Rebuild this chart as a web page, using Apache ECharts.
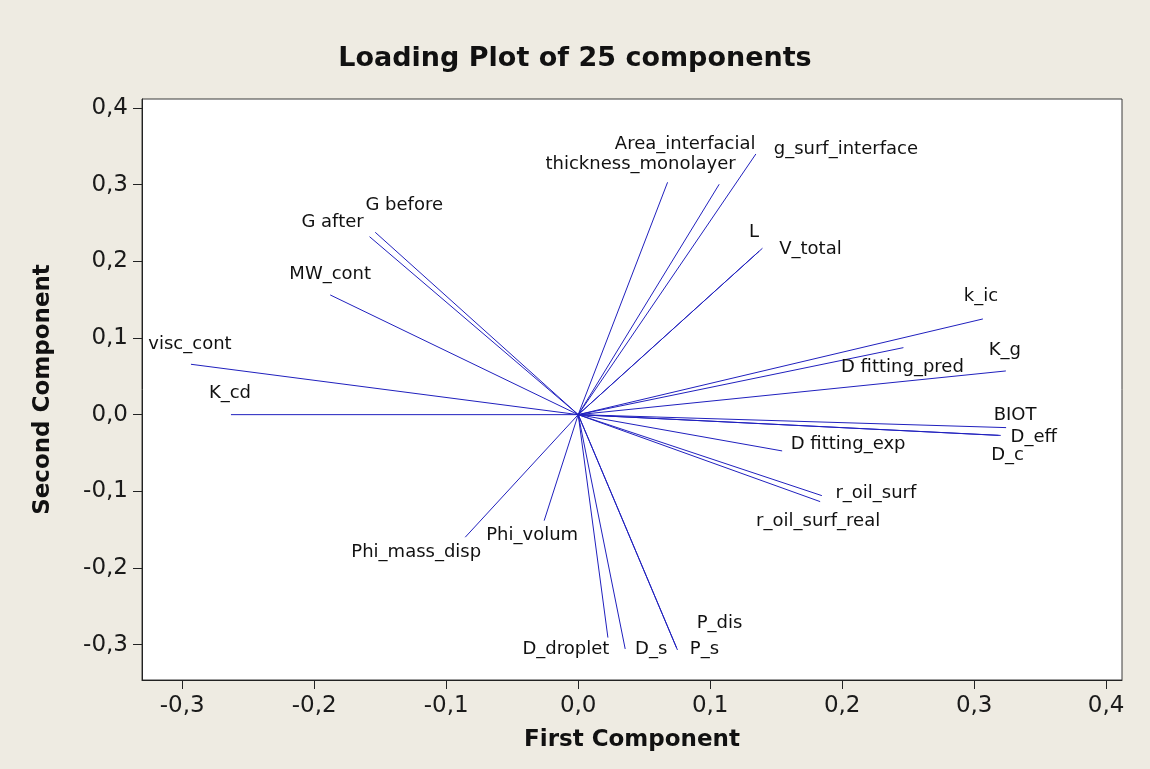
<!DOCTYPE html>
<html>
<head>
<meta charset="utf-8">
<title>Loading Plot of 25 components</title>
<script src="https://cdn.jsdelivr.net/npm/echarts@6/dist/echarts.min.js"></script>
<style>
  html, body { margin: 0; padding: 0; background: #EEEBE2; }
  #chart { width: 1150px; height: 769px; }
</style>
</head>
<body>
<div id="chart"></div>
<script>
// Loadings of the 25 variables on the first two principal components
const variables = [
  'thickness_monolayer', 'Area_interfacial', 'g_surf_interface', 'L', 'V_total',
  'G before', 'G after', 'MW_cont', 'visc_cont', 'K_cd',
  'k_ic', 'D fitting_pred', 'K_g', 'BIOT', 'D_eff',
  'D_c', 'D fitting_exp', 'r_oil_surf', 'r_oil_surf_real', 'Phi_mass_disp',
  'Phi_volum', 'D_droplet', 'D_s', 'P_s', 'P_dis'
];
const firstComponent = [
  0.0677, 0.1068, 0.1346, 0.1370, 0.1396,
  -0.1538, -0.1581, -0.1879, -0.2934, -0.2631,
  0.3066, 0.2464, 0.3240, 0.3242, 0.3201,
  0.3185, 0.1545, 0.1846, 0.1833, -0.0856,
  -0.0258, 0.0225, 0.0356, 0.0752, 0.0745
];
const secondComponent = [
  0.3030, 0.3004, 0.3399, 0.2130, 0.2170,
  0.2378, 0.2321, 0.1561, 0.0657, 0.0000,
  0.1248, 0.0874, 0.0570, -0.0169, -0.0271,
  -0.0270, -0.0473, -0.1056, -0.1134, -0.1598,
  -0.1382, -0.2907, -0.3055, -0.3068, -0.3040
];

// Axis tick values
const xTicks = [-0.3, -0.2, -0.1, 0.0, 0.1, 0.2, 0.3, 0.4];
const yTicks = [-0.3, -0.2, -0.1, 0.0, 0.1, 0.2, 0.3, 0.4];

// Label placement: pixel shift of each label centre from its loading end point
const labelShift = {
  'thickness_monolayer': [-27, -18], 'Area_interfacial': [-34, -40], 'g_surf_interface': [90, -5],
  'L': [-5, -19], 'V_total': [48, 1], 'G before': [29, -27], 'G after': [-37, -14],
  'MW_cont': [0, -21], 'visc_cont': [-1, -20], 'K_cd': [-1, -21], 'k_ic': [-2, -23],
  'D fitting_pred': [-1, 20], 'K_g': [-1, -21], 'BIOT': [9, -12], 'D_eff': [33, 2],
  'D_c': [9, 20], 'D fitting_exp': [66, -7], 'r_oil_surf': [54, -2], 'r_oil_surf_real': [-2, 20],
  'Phi_mass_disp': [-49, 15], 'Phi_volum': [-12, 15], 'D_droplet': [-42, 12], 'D_s': [26, 0],
  'P_s': [27, -1], 'P_dis': [43, -24]
};

const commaFmt = v => (Math.abs(v) < 1e-9 ? 0 : v).toFixed(1).replace('.', ',');
const LINE_COLOR = '#2020BE';

const chart = echarts.init(document.getElementById('chart'), null, { renderer: 'canvas' });

const loadingData = variables.map((name, i) => [firstComponent[i], secondComponent[i], i]);

chart.setOption({
  backgroundColor: '#EEEBE2',
  animation: false,
  title: {
    text: 'Loading Plot of 25 components',
    left: 'center',
    top: 40,
    textStyle: { fontFamily: 'DejaVu Sans', fontWeight: 'bold', fontSize: 27, color: '#111' }
  },
  grid: {
    left: 142, right: 28, top: 99, bottom: 89,
    show: true, backgroundColor: '#FFFFFF', borderColor: '#3a3a3a', borderWidth: 1
  },
  xAxis: {
    type: 'value',
    min: -0.3305, max: 0.412,
    name: 'First Component',
    nameLocation: 'middle',
    nameGap: 49,
    nameTextStyle: { fontFamily: 'DejaVu Sans', fontWeight: 'bold', fontSize: 23, color: '#111' },
    axisLine: { onZero: false, lineStyle: { color: '#222', width: 1 } },
    axisTick: { show: true, length: 9, customValues: xTicks, lineStyle: { color: '#222' } },
    axisLabel: { customValues: xTicks, formatter: commaFmt, margin: 15,
      fontFamily: 'DejaVu Sans', fontSize: 23, color: '#1a1a1a' },
    splitLine: { show: false }
  },
  yAxis: {
    type: 'value',
    min: -0.346, max: 0.4116,
    name: 'Second Component',
    nameLocation: 'middle',
    nameGap: 87,
    nameTextStyle: { fontFamily: 'DejaVu Sans', fontWeight: 'bold', fontSize: 23, color: '#111' },
    axisLine: { onZero: false, lineStyle: { color: '#222', width: 1 } },
    axisTick: { show: true, length: 9, customValues: yTicks, lineStyle: { color: '#222' } },
    axisLabel: { customValues: yTicks, formatter: commaFmt, margin: 14,
      fontFamily: 'DejaVu Sans', fontSize: 23, color: '#1a1a1a' },
    splitLine: { show: false }
  },
  series: [{
    type: 'custom',
    name: 'Loadings',
    data: loadingData,
    encode: { x: 0, y: 1 },
    clip: false,
    renderItem: function (params, api) {
      const origin = api.coord([0, 0]);
      const end = api.coord([api.value(0), api.value(1)]);
      const name = variables[api.value(2)];
      const shift = labelShift[name] || [0, -20];
      return {
        type: 'group',
        children: [
          {
            type: 'line',
            shape: { x1: origin[0], y1: origin[1], x2: end[0], y2: end[1] },
            style: { stroke: LINE_COLOR, lineWidth: 1 }
          },
          {
            type: 'text',
            x: end[0] + shift[0],
            y: end[1] + shift[1],
            style: {
              text: name,
              fill: '#111',
              font: '18px "DejaVu Sans"',
              align: 'center',
              verticalAlign: 'middle'
            }
          }
        ]
      };
    }
  }]
});
</script>
</body>
</html>
